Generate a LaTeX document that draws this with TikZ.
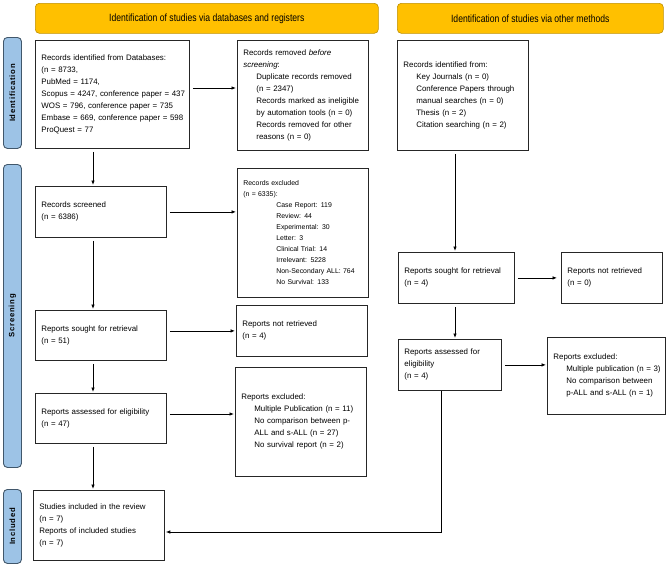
\documentclass[tikz,border=0pt]{standalone}
\usepackage{fontspec}
\setmainfont{Liberation Sans}
\newfontfamily\hdrfont{Liberation Sans}[FakeStretch=0.82]
\newfontfamily\sidefont{Liberation Sans}[LetterSpace=10]
\usetikzlibrary{arrows.meta}
\definecolor{hdrfill}{HTML}{FFC000}
\definecolor{hdrdraw}{HTML}{BF9000}
\definecolor{sidefill}{HTML}{9DC3E6}
\definecolor{sidedraw}{HTML}{41576B}
\newcommand\indl[1]{\hspace*{13pt}\mbox{#1}}
\newcommand\indw[1]{\hspace*{33pt}\mbox{#1}}
\tikzset{
  bx/.style n args={3}{draw=black!85, line width=0.8pt, anchor=north west,
    inner xsep=6pt, inner ysep=0pt, align=left,
    minimum width=#1, minimum height=#2, text width=#3,
    font=\fontsize{7.9pt}{12pt}\selectfont},
  hdr/.style={draw=hdrdraw, fill=hdrfill, line width=0.6pt, rounded corners=4pt,
    anchor=north west, inner sep=0pt, align=center,
    font=\hdrfont\fontsize{10.5pt}{12pt}\selectfont},
  side/.style={draw=sidedraw, fill=sidefill, line width=0.9pt, rounded corners=4pt,
    anchor=north west, inner sep=0pt},
  sidetxt/.style={rotate=90, font=\sidefont\bfseries\fontsize{7.7pt}{9pt}\selectfont},
  arr/.style={line width=0.8pt, -{Latex[length=4.5pt,width=3.6pt]},
    shorten <=3pt, shorten >=1pt}
}
\begin{document}
\begin{tikzpicture}[x=1pt,y=-1pt]
\useasboundingbox (0,0) rectangle (667,565);
% headers
\node[hdr, minimum width=343pt, minimum height=30pt] (h1) at (35,3)
  {Identification of studies via databases and registers};
\node[hdr, minimum width=266pt, minimum height=30pt] (h2) at (397,3)
  {Identification of studies via other methods};
% side bars
\node[side, minimum width=18pt, minimum height=111pt] (s1) at (3,37) {};
\node[sidetxt] (s1t) at (s1.center) {Identification};
\node[side, minimum width=18pt, minimum height=303pt] (s2) at (3,164) {};
\node[sidetxt] (s2t) at (s2.center) {Screening};
\node[side, minimum width=18pt, minimum height=74pt] (s3) at (3,489) {};
\node[sidetxt] (s3t) at (s3.center) {Included};
% left column
\node[bx={154pt}{108pt}{142pt}] (db) at (35,40)
  {Records identified from Databases:\\(n = 8733,\\PubMed = 1174,\\
   \mbox{Scopus = 4247, conference paper = 437}\\
   \mbox{WOS = 796, conference paper = 735}\\
   \mbox{Embase = 669, conference paper = 598}\\ProQuest = 77};
\node[bx={131pt}{110pt}{119pt}] (removed) at (237,40)
  {Records removed \textit{before}\\\textit{screening}:\\
   \indl{Duplicate records removed}\\\indl{(n = 2347)}\\
   \indl{Records marked as ineligible}\\\indl{by automation tools (n = 0)}\\
   \indl{Records removed for other}\\\indl{reasons (n = 0)}};
\node[bx={131pt}{51pt}{119pt}] (screened) at (35,186)
  {Records screened\\(n = 6386)};
\node[bx={131pt}{129pt}{119pt}, font=\fontsize{6.9pt}{11pt}\selectfont] (excluded) at (237,168)
  {Records excluded\\(n = 6335):\\
   \indw{Case Report: 119}\\\indw{Review: 44}\\\indw{Experimental: 30}\\
   \indw{Letter: 3}\\\indw{Clinical Trial: 14}\\\indw{Irrelevant: 5228}\\
   \indw{Non-Secondary ALL: 764}\\\indw{No Survival: 133}};
\node[bx={131pt}{50pt}{119pt}] (sought) at (35,310)
  {Reports sought for retrieval\\(n = 51)};
\node[bx={131pt}{51pt}{119pt}] (notret) at (236,305)
  {Reports not retrieved\\(n = 4)};
\node[bx={131pt}{50pt}{119pt}] (assessed) at (35,393)
  {Reports assessed for eligibility\\(n = 47)};
\node[bx={131pt}{109pt}{119pt}] (repexcl) at (235,367)
  {Reports excluded:\\\indl{Multiple Publication (n = 11)}\\
   \indl{No comparison between p-}\\\indl{ALL and s-ALL (n = 27)}\\
   \indl{No survival report (n = 2)}};
\node[bx={131pt}{70pt}{119pt}] (included) at (33,490)
  {Studies included in the review\\(n = 7)\\Reports of included studies\\(n = 7)};
% right column
\node[bx={131pt}{110pt}{119pt}] (other) at (397,40)
  {Records identified from:\\\indl{Key Journals (n = 0)}\\
   \indl{Conference Papers through}\\\indl{manual searches (n = 0)}\\
   \indl{Thesis (n = 2)}\\\indl{Citation searching (n = 2)}};
\node[bx={116pt}{51pt}{104pt}] (soughtR) at (398,252)
  {Reports sought for retrieval\\(n = 4)};
\node[bx={101pt}{51pt}{89pt}] (notretR) at (561,252)
  {Reports not retrieved\\(n = 0)};
\node[bx={103pt}{51pt}{91pt}] (assessedR) at (398,339)
  {Reports assessed for\\eligibility\\(n = 4)};
\node[bx={118pt}{77pt}{106pt}] (repexclR) at (547,337)
  {Reports excluded:\\\indl{Multiple publication (n = 3)}\\
   \indl{No comparison between}\\\indl{p-ALL and s-ALL (n = 1)}};
% helper coordinates
\coordinate (cL) at (93,0);
\coordinate (cR) at (455,0);
\coordinate (yA) at (0,88);
\coordinate (yD) at (0,414);
\coordinate (turn) at (441,532);
% arrows left
\draw[arr] (db.east |- yA) -- (removed.west |- yA);
\draw[arr] (db.south -| cL) -- (screened.north -| cL);
\draw[arr] (screened.east) -- (screened.east -| excluded.west);
\draw[arr] (screened.south -| cL) -- (sought.north -| cL);
\draw[arr] (notret.west -| sought.east) -- (notret.west);
\draw[arr] (sought.south -| cL) -- (assessed.north -| cL);
\draw[arr] (assessed.east |- yD) -- (repexcl.west |- yD);
\draw[arr] (assessed.south -| cL) -- (included.north -| cL);
% arrows right
\draw[arr] (other.south -| cR) -- (soughtR.north -| cR);
\draw[arr, shorten >=4pt] (soughtR.east) -- (notretR.west);
\draw[arr] (soughtR.south -| cR) -- (assessedR.north -| cR);
\draw[arr] (assessedR.east) -- (assessedR.east -| repexclR.west);
\draw[arr, shorten <=0pt] (assessedR.south -| turn) -- (turn) -- (turn -| included.east);
\end{tikzpicture}
\end{document}
